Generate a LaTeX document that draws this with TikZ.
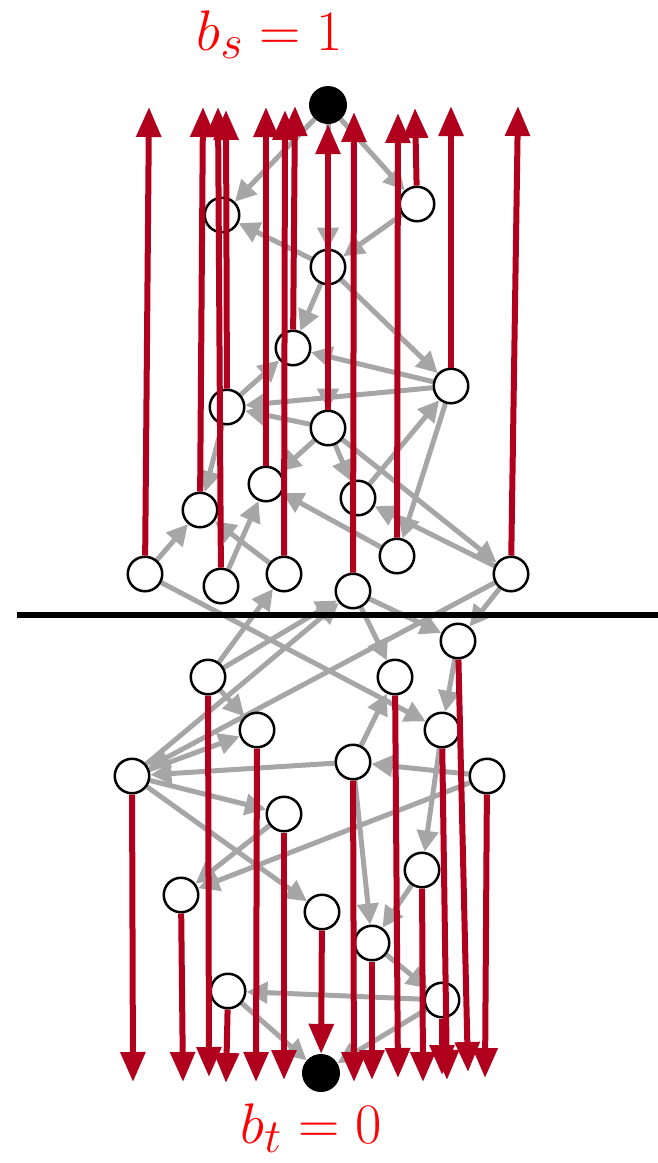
\documentclass[tikz,border=0pt]{standalone}
\usepackage{graphicx}
\usetikzlibrary{arrows.meta}
\pgfdeclarelayer{background}
\pgfdeclarelayer{foreground}
\pgfsetlayers{background,main,foreground}
\definecolor{edgegray}{RGB}{166,166,166}
\definecolor{arrowred}{RGB}{176,0,30}
\begin{document}
\begin{tikzpicture}[x=1pt,y=-1pt,
 vtx/.style={circle,draw=black,fill=white,line width=2.5pt,minimum size=34.5pt,inner sep=0pt},
 term/.style={circle,fill=black,minimum size=38pt,inner sep=0pt},
 gedge/.style={draw=edgegray,line width=5pt,-{Triangle[length=21pt,width=21pt]}},
 redge/.style={draw=arrowred,line width=6pt,-{Triangle[length=30pt,width=24pt]}},
 lab/.style={text=red,font=\Huge,anchor=base,inner sep=0pt},
 cutline/.style={draw=black,line width=6pt}]
\useasboundingbox (0,0) rectangle (658,1163);
% labels
\node[lab] (ls) at (270,50) {\scalebox{2.3}{$b_s = 1$}};
\node[lab] (lt) at (311,1143) {\scalebox{2.3}{$b_t = 0$}};
% terminals
\node[term] (s) at (328,105) {};
\node[term] (t) at (321,1073) {};
% top nodes
\node[vtx] (A) at (222,215) {};
\node[vtx] (B) at (417,204) {};
\node[vtx] (C) at (328,267) {};
\node[vtx] (D) at (293,348) {};
\node[vtx] (E) at (451,386) {};
\node[vtx] (F) at (227,407) {};
\node[vtx] (G) at (328,428) {};
\node[vtx] (H) at (266,484) {};
\node[vtx] (I) at (200,510) {};
\node[vtx] (J) at (358,498) {};
\node[vtx] (K) at (145,574) {};
\node[vtx] (L) at (221,586) {};
\node[vtx] (M) at (284,574) {};
\node[vtx] (N) at (353,591) {};
\node[vtx] (O) at (397,556) {};
\node[vtx] (P) at (511,574) {};
% bottom nodes
\node[vtx] (Q) at (458,641) {};
\node[vtx] (R) at (208,677) {};
\node[vtx] (S) at (395,677) {};
\node[vtx] (T) at (257,730) {};
\node[vtx] (U) at (442,730) {};
\node[vtx] (V) at (132,776) {};
\node[vtx] (W) at (353,762) {};
\node[vtx] (X) at (487,776) {};
\node[vtx] (Y) at (284,814) {};
\node[vtx] (Z) at (422,870) {};
\node[vtx] (a) at (181,895) {};
\node[vtx] (b) at (322,912) {};
\node[vtx] (c) at (372,943) {};
\node[vtx] (d) at (228,991) {};
\node[vtx] (e) at (442,1000) {};
% cut line
\coordinate (cl) at (17,615);
\coordinate (cr) at (658,615);
% red arrow free ends
\coordinate (Kt) at (149,107);
\coordinate (It) at (203,107);
\coordinate (Lt) at (218,107);
\coordinate (Ft) at (226,110);
\coordinate (Ht) at (266,107);
\coordinate (Mt) at (285,110);
\coordinate (Dt) at (295,106);
\coordinate (Nt) at (354,112);
\coordinate (Ot) at (398,113);
\coordinate (Bt) at (415,108);
\coordinate (Et) at (451,106);
\coordinate (Pt) at (518,106);
\coordinate (Vb) at (133,1082);
\coordinate (ab) at (183,1082);
\coordinate (Rb) at (209,1077);
\coordinate (db) at (226,1083);
\coordinate (Tb) at (256,1082);
\coordinate (Yb) at (284,1080);
\coordinate (Wb) at (354,1082);
\coordinate (cb) at (372,1080);
\coordinate (Sb) at (398,1078);
\coordinate (Zb) at (423,1082);
\coordinate (Ub) at (447,1080);
\coordinate (eb) at (442,1075);
\coordinate (Qb) at (468,1072);
\coordinate (Xb) at (485,1078);
\begin{pgfonlayer}{background}
% gray edges
\foreach \u/\v in {s/A,s/B,s/C,B/C,C/A,C/D,C/E,C/G,E/D,E/F,F/D,G/F,F/I,G/H,G/J,G/P,J/E,E/O,P/J,O/H,K/I,L/H,M/I,
  K/U,R/M,R/N,V/N,N/Q,P/Q,N/S,P/V,
  R/T,Q/U,W/S,V/T,X/W,W/V,V/Y,V/b,U/Z,W/c,X/a,Y/a,Z/c,c/e,e/d,d/t,e/t}
  \draw[gedge] (\u) -- (\v);
\end{pgfonlayer}
\draw[cutline] (cl) -- (cr);
\begin{pgfonlayer}{foreground}
\foreach \n in {K,I,L,F,H,M,D,N,O,B,E,P}
  \draw[redge] (\n) -- (\n t);
\draw[redge] (G) -- (s);
\foreach \n in {V,a,R,d,T,Y,W,c,S,Z,U,e,Q,X}
  \draw[redge] (\n) -- (\n b);
\draw[redge] (b) -- (t);
\end{pgfonlayer}
\end{tikzpicture}
\end{document}
